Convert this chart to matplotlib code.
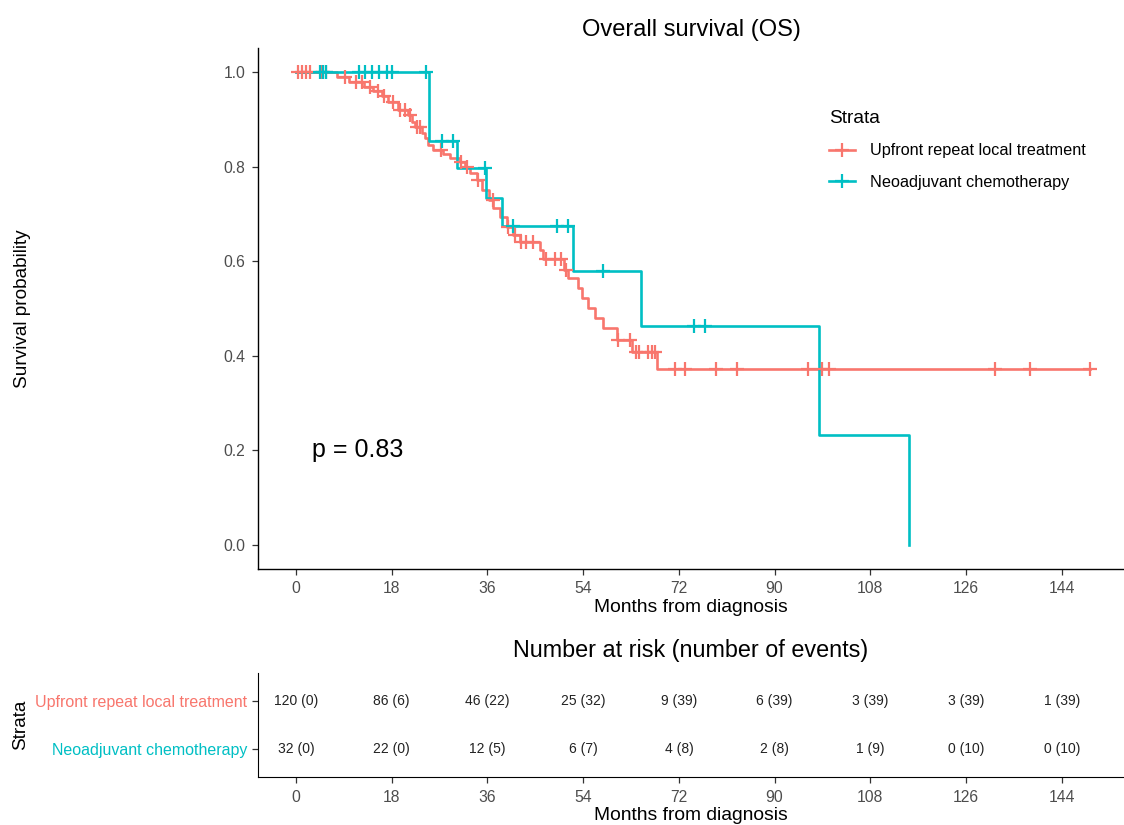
import numpy as np
import matplotlib
matplotlib.use("Agg")
import matplotlib.pyplot as plt
from matplotlib.lines import Line2D

plt.rcParams['font.family'] = ['Liberation Sans', 'DejaVu Sans']

# ---------------- data ----------------
strata = ["Upfront repeat local treatment", "Neoadjuvant chemotherapy"]
colors = ["#F8766D", "#00BFC4"]

red_event_times = [7.7, 10.0, 12.8, 14.5, 16.1, 17.3, 19.2, 21.1, 21.8, 22.4, 23.6, 24.3,
                   24.9, 25.8, 27.7, 29.0, 30.8, 31.8, 32.7, 34.0, 34.9, 36.2, 37.1, 38.4,
                   39.6, 40.8, 42.1, 45.9, 46.5, 50.4, 51.2, 53.1, 53.7, 55.0, 56.2, 57.8,
                   60.3, 63.1, 67.9]
red_surv = [0.99, 0.979, 0.969, 0.96, 0.95, 0.937, 0.92, 0.909, 0.895, 0.884, 0.871, 0.86,
            0.846, 0.835, 0.827, 0.818, 0.81, 0.80, 0.786, 0.772, 0.75, 0.729, 0.712, 0.694,
            0.673, 0.655, 0.641, 0.624, 0.604, 0.581, 0.564, 0.543, 0.522, 0.50, 0.479, 0.458,
            0.433, 0.407, 0.372]
red_censor = [0.4, 1.1, 1.9, 2.6, 4.9, 5.6, 9.2, 11.2, 12.4, 14.0, 15.4, 16.6, 18.3, 19.6,
              20.5, 21.4, 22.7, 23.3, 27.2, 31.1, 32.1, 34.2, 37.0, 39.9, 41.2, 42.4, 43.3,
              44.6, 47.1, 48.7, 49.9, 50.8, 60.6, 62.8, 63.9, 64.5, 66.2, 66.9, 67.5, 71.3,
              73.1, 79.0, 83.0, 96.3, 99.0, 100.3, 131.5, 138.1, 149.3]

teal_event_times = [25.0, 30.2, 35.8, 38.8, 52.1, 64.8, 98.4, 115.3]
teal_surv = [0.854, 0.796, 0.734, 0.675, 0.579, 0.4636, 0.2326, 0.0]
teal_censor = [4.5, 5.0, 5.6, 11.8, 13.0, 14.3, 15.6, 17.1, 18.0, 24.5, 27.4, 29.6, 35.5,
               40.8, 49.0, 51.2, 57.8, 74.9, 76.9]

time_breaks = [0, 18, 36, 54, 72, 90, 108, 126, 144]
risk_red = ["120 (0)", "86 (6)", "46 (22)", "25 (32)", "9 (39)", "6 (39)", "3 (39)", "3 (39)", "1 (39)"]
risk_teal = ["32 (0)", "22 (0)", "12 (5)", "6 (7)", "4 (8)", "2 (8)", "1 (9)", "0 (10)", "0 (10)"]
y_ticks = [0.0, 0.2, 0.4, 0.6, 0.8, 1.0]
p_text = "p = 0.83"

# ---------------- figure ----------------
W, H = 1124, 825
fig = plt.figure(figsize=(W / 100, H / 100), dpi=100)

def fx(px):
    return px / W

def fy(py):
    return 1 - py / H

xlim = (-7.15, 155.7)
ax = fig.add_axes([fx(258), fy(568.6), fx(1124) - fx(258), fy(48.3) - fy(568.6)])
ax.set_xlim(*xlim)
ax.set_ylim(-0.05, 1.05)

def km_step(ev_t, ev_s, end):
    t = [0.0] + list(ev_t)
    s = [1.0] + list(ev_s)
    if end > t[-1]:
        t.append(end)
        s.append(s[-1])
    return np.array(t), np.array(s)

def surv_at(ev_t, ev_s, times):
    idx = np.searchsorted(np.array(ev_t), np.array(times), side='right')
    s = np.concatenate([[1.0], ev_s])
    return s[idx]

series = [
    (red_event_times, red_surv, red_censor, max(red_censor)),
    (teal_event_times, teal_surv, teal_censor, teal_event_times[-1]),
]
for (et, es, ct, end), col in zip(series, colors):
    t, s = km_step(et, es, end)
    ax.step(t, s, where='post', color=col, lw=1.9, zorder=3)
    ax.plot(ct, surv_at(et, es, ct), ls='none', marker='+', ms=10, mew=1.6,
            color=col, zorder=4)

for sp in ['top', 'right']:
    ax.spines[sp].set_visible(False)
for sp in ['left', 'bottom']:
    ax.spines[sp].set_linewidth(1.0)
ax.set_xticks(time_breaks)
ax.set_yticks(y_ticks)
ax.set_yticklabels([f"{v:.1f}" for v in y_ticks])
ax.tick_params(axis='both', labelsize=11.3, colors='#333333', labelcolor='#4D4D4D',
               length=4, width=0.9, pad=5)
ax.set_xlabel("Months from diagnosis", fontsize=13.9, labelpad=2)
ax.set_ylabel("Survival probability", fontsize=13.7)
ax.yaxis.set_label_coords(-0.262, 0.5)
ax.set_title("Overall survival (OS)", fontsize=17, pad=9)
ax.text(3, 0.2, p_text, fontsize=18, va='center', ha='left')

handles = [Line2D([0], [0], color=c, lw=1.9, marker='+', ms=10, mew=1.6) for c in colors]
leg = ax.legend(handles, strata, title="Strata", loc='upper left',
                bbox_to_anchor=(0.643, 0.91), frameon=False, fontsize=11.7,
                title_fontsize=13.8, handlelength=1.6, handletextpad=0.9,
                labelspacing=1.0, alignment='left')
leg._legend_box.sep = 12

# ---------------- risk table ----------------
rax = fig.add_axes([fx(258), fy(777), fx(1124) - fx(258), fy(673) - fy(777)])
rax.set_xlim(*xlim)
rax.set_ylim(0.4, 2.6)
for i, x in enumerate(time_breaks):
    rax.text(x, 2, risk_red[i], ha='center', va='center', fontsize=10, color='#222222')
    rax.text(x, 1, risk_teal[i], ha='center', va='center', fontsize=10, color='#222222')
rax.set_yticks([2, 1])
rax.set_yticklabels(strata)
rax.set_xticks(time_breaks)
rax.tick_params(axis='x', labelsize=11.3, colors='#333333', labelcolor='#4D4D4D',
                length=4, width=0.9, pad=5)
rax.tick_params(axis='y', colors='#333333', length=4, width=0.9, labelsize=11.5)
for lab, c in zip(rax.get_yticklabels(), colors):
    lab.set_color(c)
for sp in ['top', 'right']:
    rax.spines[sp].set_visible(False)
rax.set_xlabel("Months from diagnosis", fontsize=13.9, labelpad=2)
rax.set_ylabel("Strata", fontsize=13.7)
rax.yaxis.set_label_coords(-0.264, 0.5)
rax.set_title("Number at risk (number of events)", fontsize=16.8, pad=11.5)

fig.savefig("out.png", dpi=100)
